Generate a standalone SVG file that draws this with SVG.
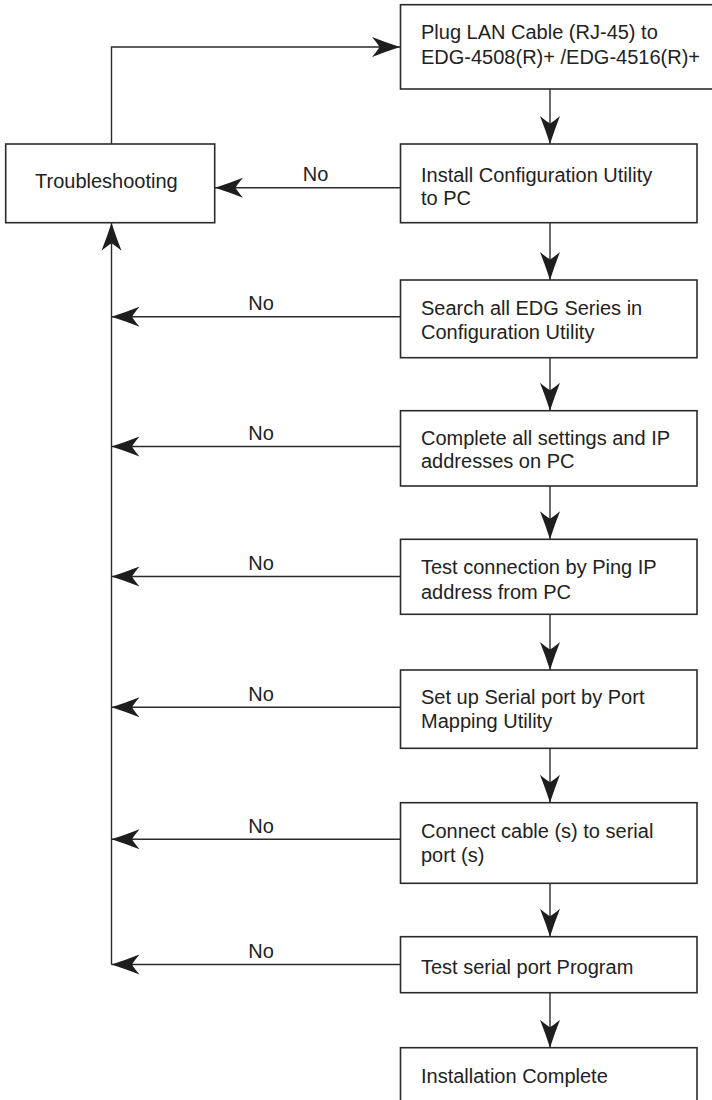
<svg xmlns="http://www.w3.org/2000/svg" width="712" height="1100" viewBox="0 0 712 1100">
  <defs>
    <marker id="arr" markerUnits="userSpaceOnUse" markerWidth="30" markerHeight="22" refX="28" refY="10" orient="auto" overflow="visible">
      <path d="M28,10 Q14,5.5 0,0 Q5.5,6.5 7.5,10 Q5.5,13.5 0,20 Q14,14.5 28,10 Z" fill="#1e1e1e"/>
    </marker>
    <style>
      .box { fill: #fff; stroke: #2b2b2b; stroke-width: 1.6; }
      .t { font-family: "Liberation Sans", Arial, sans-serif; font-size: 20px; fill: #222; }
      .lbl { font-family: "Liberation Sans", Arial, sans-serif; font-size: 20px; fill: #222; text-anchor: middle; }
      .ln { fill: none; stroke: #2b2b2b; stroke-width: 1.4; }
      .ar { marker-end: url(#arr); }
    </style>
  </defs>

  <g id="connectors">
    <path class="ln ar" d="M550,89 V144"/>
    <path class="ln ar" d="M550,222.7 V280"/>
    <path class="ln ar" d="M550,357.7 V410.7"/>
    <path class="ln ar" d="M550,486 V539.3"/>
    <path class="ln ar" d="M550,614.3 V670"/>
    <path class="ln ar" d="M550,748.3 V802.7"/>
    <path class="ln ar" d="M550,883.3 V936.7"/>
    <path class="ln ar" d="M550,992.7 V1047.7"/>
    <path class="ln ar" d="M111.5,144 V47 H400"/>
    <path class="ln ar" d="M111.5,964.5 V222.7"/>
    <path class="ln ar" d="M400,187.7 H215"/>
    <path class="ln ar" d="M400,316.7 H111.5"/>
    <path class="ln ar" d="M400,446.5 H111.5"/>
    <path class="ln ar" d="M400,576.5 H111.5"/>
    <path class="ln ar" d="M400,707.3 H111.5"/>
    <path class="ln ar" d="M400,839.3 H111.5"/>
    <path class="ln ar" d="M400,964.5 H111.5"/>
    <text class="lbl" x="315.5" y="180.5">No</text>
    <text class="lbl" x="261" y="310">No</text>
    <text class="lbl" x="261" y="440">No</text>
    <text class="lbl" x="261" y="570">No</text>
    <text class="lbl" x="261" y="700.5">No</text>
    <text class="lbl" x="261" y="832.5">No</text>
    <text class="lbl" x="261" y="958">No</text>
  </g>

  <g id="troubleshooting">
    <rect class="box" x="5.7" y="144" width="209" height="78.7"/>
    <text class="t" x="35" y="188.3">Troubleshooting</text>
  </g>

  <g id="plug-lan">
    <rect class="box" x="400.5" y="4.7" width="330" height="84.3"/>
    <text class="t" x="421" y="39.3">Plug LAN Cable (RJ-45) to</text>
    <text class="t" x="421" y="64.3">EDG-4508(R)+ /EDG-4516(R)+</text>
  </g>

  <g id="install-utility">
    <rect class="box" x="400.5" y="144" width="296.5" height="78.7"/>
    <text class="t" x="421" y="181.7">Install Configuration Utility</text>
    <text class="t" x="421" y="205">to PC</text>
  </g>

  <g id="search-edg">
    <rect class="box" x="400.5" y="280" width="296.5" height="77.7"/>
    <text class="t" x="421" y="315">Search all EDG Series in</text>
    <text class="t" x="421" y="339.3">Configuration Utility</text>
  </g>

  <g id="complete-settings">
    <rect class="box" x="400.5" y="410.7" width="296.5" height="75.3"/>
    <text class="t" x="421" y="445">Complete all settings and IP</text>
    <text class="t" x="421" y="468.3">addresses on PC</text>
  </g>

  <g id="test-connection">
    <rect class="box" x="400.5" y="539.3" width="296.5" height="75"/>
    <text class="t" x="421" y="574">Test connection by Ping IP</text>
    <text class="t" x="421" y="599">address from PC</text>
  </g>

  <g id="setup-serial">
    <rect class="box" x="400.5" y="670" width="296.5" height="78.3"/>
    <text class="t" x="421" y="704">Set up Serial port by Port</text>
    <text class="t" x="421" y="728.3">Mapping Utility</text>
  </g>

  <g id="connect-cable">
    <rect class="box" x="400.5" y="802.7" width="296.5" height="80.6"/>
    <text class="t" x="421" y="838.3">Connect cable (s) to serial</text>
    <text class="t" x="421" y="862.3">port (s)</text>
  </g>

  <g id="test-serial">
    <rect class="box" x="400.5" y="936.7" width="296.5" height="56"/>
    <text class="t" x="421" y="974">Test serial port Program</text>
  </g>

  <g id="installation-complete">
    <rect class="box" x="400.5" y="1047.7" width="296.5" height="70"/>
    <text class="t" x="421" y="1083">Installation Complete</text>
  </g>
</svg>
